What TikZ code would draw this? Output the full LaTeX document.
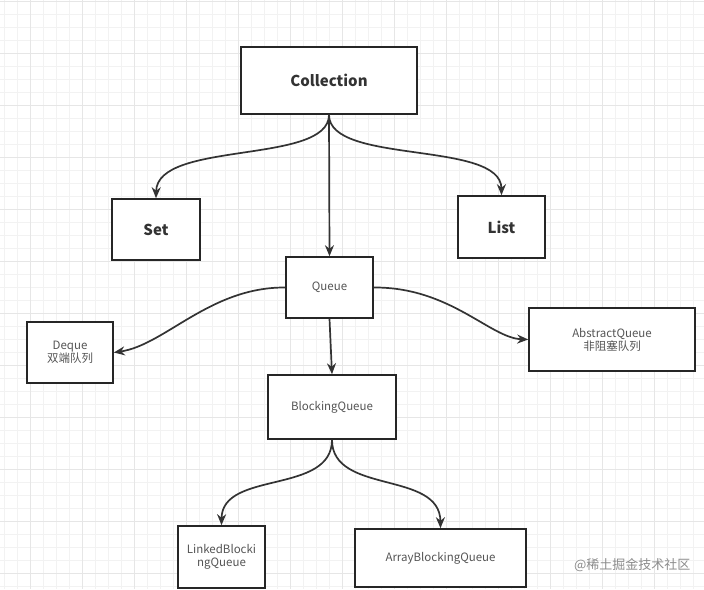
\documentclass[tikz,border=0pt]{standalone}
\usepackage{fontspec}
\setmainfont{Noto Sans CJK SC}
\usetikzlibrary{arrows.meta}
\definecolor{boxline}{HTML}{262626}
\definecolor{arrline}{HTML}{333333}
\definecolor{txtgray}{HTML}{555555}
\definecolor{minorgrid}{HTML}{F2F2F2}
\definecolor{majorgrid}{HTML}{E6E6E6}
\tikzset{
  box/.style={draw=boxline, line width=1.6pt, fill=white, inner sep=0pt, align=center},
  bigbox/.style={box, font=\fontsize{15}{18}\selectfont\bfseries, text=arrline},
  smallbox/.style={box, font=\fontsize{11.5}{15}\selectfont, text=txtgray},
  conn/.style={draw=arrline, line width=1.7pt, -{Stealth[length=11pt,width=9pt]}},
}
\begin{document}
\begin{tikzpicture}[x=1pt,y=-1pt]
\useasboundingbox (0,0) rectangle (704,589);
\fill[white] (0,0) rectangle (704,589);
% grid
\foreach \gx in {4,17,...,704} \draw[minorgrid, line width=0.8pt] (\gx,0) -- (\gx,589);
\foreach \gy in {1,14,...,589} \draw[minorgrid, line width=0.8pt] (0,\gy) -- (704,\gy);
\foreach \gx in {30,82,...,704} \draw[majorgrid, line width=1pt] (\gx,0) -- (\gx,589);
\foreach \gy in {1,53,...,589} \draw[majorgrid, line width=1pt] (0,\gy) -- (704,\gy);

% boxes
\node[bigbox, minimum width=176pt, minimum height=67pt] (coll) at (329,80.5) {Collection};
\node[bigbox, minimum width=88pt, minimum height=61pt] (set) at (156,229.5) {Set};
\node[bigbox, minimum width=87pt, minimum height=62pt] (list) at (501.5,227) {List};
\node[smallbox, minimum width=87pt, minimum height=61pt] (queue) at (329.5,287.5) {Queue};
\node[smallbox, minimum width=86pt, minimum height=61pt] (deque) at (70,352.5) {Deque\\[-2pt]双端队列};
\node[smallbox, minimum width=166pt, minimum height=63pt] (abq) at (612,339.5) {AbstractQueue\\[-2pt]非阻塞队列};
\node[smallbox, minimum width=128pt, minimum height=64pt] (bq) at (332,407) {BlockingQueue};
\node[smallbox, minimum width=87pt, minimum height=62pt] (lbq) at (221.5,557) {LinkedBlocki\\[-2pt]ngQueue};
\node[smallbox, minimum width=171pt, minimum height=58pt] (abkq) at (440.5,558) {ArrayBlockingQueue};

% connectors
\draw[conn] (coll.south) .. controls (329,165) and (157,140) .. (set.north);
\draw[conn] (coll.south) .. controls (329,165) and (501,140) .. (list.north);
\draw[conn] (coll.south) -- (queue.north);
\draw[conn] (queue.west) .. controls (210,287) and (165,345) .. (deque.east);
\draw[conn] (queue.east) .. controls (450,287) and (490,338) .. (abq.west);
\draw[conn] (queue.south) -- (bq.north);
\draw[conn] (bq.south) .. controls (332,495) and (222,470) .. (lbq.north);
\draw[conn] (bq.south) .. controls (332,495) and (440,470) .. (abkq.north);

% watermark
\node[text=black!45, font=\fontsize{13}{15}\selectfont, anchor=east] (wm) at (694,565) {@稀土掘金技术社区};
\end{tikzpicture}
\end{document}
